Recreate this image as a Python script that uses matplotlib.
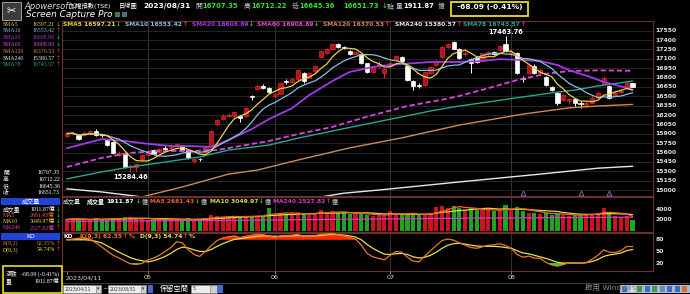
import numpy as np
import pandas as pd
import matplotlib
matplotlib.use('Agg')
import matplotlib.pyplot as plt
from matplotlib.patches import Rectangle

plt.rcParams['font.family'] = ['DejaVu Sans', 'Noto Sans CJK TC']
SERIF = ['Liberation Serif', 'Noto Sans CJK TC']

# TAIEX daily candles 2023/04/11 - 2023/08/31
opens = [15870, 15895, 15880, 15880, 15905, 15950, 15890, 15800, 15770, 15565,
         15600, 15365, 15370, 15490, 15560, 15640, 15610, 15670, 15680, 15710,
         15710, 15640, 15470, 15500, 15610, 15700, 16050, 16140, 16190, 16190,
         16190, 16190, 16500, 16620, 16660, 16640, 16510, 16540, 16740, 16730,
         16770, 16880, 16800, 16900, 17130, 17190, 17260, 17330, 17280, 17230,
         17180, 17170, 17030, 16890, 16990, 16880, 16990, 17080, 17130, 16990,
         16750, 16680, 16680, 16880, 17000, 17130, 17290, 17370, 17260, 17170,
         17100, 17110, 17080, 17170, 17210, 17240, 17340, 17170, 17200, 16800,
         16870, 16990, 16870, 16810, 16650, 16560, 16440, 16420, 16450, 16390,
         16360, 16400, 16480, 16700, 16660, 16520, 16570, 16640, 16707.35]
highs = [15935, 15945, 15895, 15940, 15960, 15975, 15905, 15815, 15780, 15625,
         15610, 15420, 15440, 15580, 15620, 15660, 15670, 15700, 15730, 15750,
         15725, 15650, 15510, 15520, 15700, 15960, 16140, 16210, 16230, 16270,
         16200, 16330, 16520, 16680, 16690, 16650, 16550, 16730, 16770, 16800,
         16940, 16890, 16880, 17000, 17240, 17280, 17350, 17350, 17300, 17240,
         17230, 17180, 17040, 16990, 17060, 16960, 17060, 17160, 17150, 17000,
         16760, 16710, 16900, 16990, 17080, 17310, 17360, 17390, 17270, 17220,
         17110, 17120, 17200, 17230, 17230, 17320, 17463.76, 17240, 17210, 16820,
         17010, 17010, 16940, 16820, 16660, 16570, 16540, 16480, 16470, 16420,
         16420, 16500, 16580, 16820, 16680, 16580, 16610, 16740, 16712.22]
lows = [15850, 15875, 15800, 15860, 15890, 15860, 15850, 15700, 15570, 15545,
        15350, 15284.46, 15300, 15470, 15540, 15555, 15600, 15630, 15660, 15690,
        15630, 15500, 15440, 15470, 15600, 15690, 16030, 16120, 16170, 16170,
        16090, 16170, 16440, 16600, 16620, 16550, 16480, 16520, 16700, 16710,
        16750, 16720, 16790, 16880, 17110, 17180, 17240, 17280, 17250, 17160,
        17170, 17020, 16870, 16870, 16960, 16800, 16970, 17060, 17040, 16740,
        16600, 16640, 16660, 16860, 16980, 17110, 17270, 17250, 17100, 17140,
        16880, 17030, 17070, 17150, 17160, 17220, 17210, 17150, 16850, 16730,
        16850, 16860, 16850, 16660, 16580, 16360, 16420, 16370, 16350, 16320,
        16330, 16390, 16460, 16690, 16450, 16500, 16540, 16620, 16645.36]
closes = [15905, 15915, 15815, 15920, 15940, 15875, 15875, 15720, 15590, 15600,
          15370, 15380, 15420, 15560, 15600, 15570, 15650, 15660, 15710, 15730,
          15640, 15510, 15495, 15490, 15690, 15945, 16125, 16190, 16200, 16250,
          16160, 16310, 16490, 16660, 16640, 16570, 16530, 16720, 16730, 16780,
          16920, 16740, 16870, 16980, 17220, 17260, 17330, 17290, 17270, 17180,
          17210, 17040, 16890, 16970, 17010, 16940, 17040, 17140, 17060, 16760,
          16670, 16670, 16890, 16970, 17060, 17290, 17340, 17260, 17120, 17190,
          17040, 17050, 17190, 17210, 17170, 17300, 17230, 17210, 16870, 16770,
          17000, 16880, 16920, 16680, 16600, 16390, 16520, 16450, 16390, 16370,
          16390, 16470, 16560, 16790, 16470, 16560, 16590, 16719.82, 16651.73]
volumes = [2100, 2250, 2200, 2000, 1950, 2300, 2150, 2200, 2450, 2100,
           2600, 2500, 2200, 2300, 2050, 2100, 2000, 2150, 1900, 2050,
           2200, 2300, 2100, 2150, 2400, 2900, 2700, 2600, 2550, 2600,
           2700, 2800, 2750, 2700, 2650, 4300, 3100, 3400, 3000, 2900,
           3500, 3300, 2900, 3100, 3800, 3500, 3700, 3300, 3300, 3200,
           3300, 3100, 2900, 2800, 3000, 2700, 3700, 3200, 3100, 3300,
           3000, 2900, 3000, 3200, 4500, 4700, 4200, 4700, 4300, 3900,
           4200, 3800, 3900, 3800, 3700, 3900, 4800, 3800, 4400, 3600,
           3400, 3300, 3100, 3300, 3000, 3200, 2900, 2800, 2900, 3000,
           3100, 3200, 3300, 4300, 3300, 2800, 2600, 2700, 1911.87]
k_line = [80, 82, 84, 85, 82, 72, 62, 50, 40, 33,
          25, 18, 16, 19, 28, 33, 40, 50, 60, 75,
          72, 55, 42, 37, 50, 65, 78, 85, 88, 90,
          86, 89, 92, 94, 93, 90, 86, 90, 91, 92,
          94, 88, 89, 91, 94, 95, 96, 93, 90, 86,
          82, 66, 45, 36, 32, 28, 40, 50, 48, 35,
          25, 23, 38, 52, 65, 78, 82, 79, 72, 66,
          60, 58, 62, 66, 67, 70, 65, 58, 42, 35,
          38, 33, 32, 22, 15, 12, 16, 21, 20, 19,
          21, 30, 40, 54, 48, 47, 52, 63, 62.35]
d_line = [80, 80, 80, 80, 79, 76, 72, 64, 56, 48,
          41, 34, 29, 26, 23, 26, 31, 37, 45, 55,
          61, 59, 54, 50, 50, 55, 63, 70, 76, 81,
          83, 85, 87, 89, 90, 90, 89, 89, 90, 90,
          91, 90, 90, 90, 91, 93, 94, 93, 92, 90,
          87, 80, 68, 58, 50, 43, 42, 44, 45, 42,
          36, 33, 35, 40, 48, 58, 66, 70, 71, 69,
          66, 64, 63, 63, 63, 62, 60, 58, 52, 46,
          44, 40, 36, 32, 27, 22, 20, 20, 20, 20,
          21, 24, 29, 37, 41, 43, 46, 52, 54.74]

# longer averages, read at a few days along each line
ma20_days = [0, 6, 10, 14, 18, 21, 25, 28, 32, 35, 39, 42, 46, 49, 52, 54, 58, 63,
             68, 72, 75, 79, 82, 85, 87, 91, 93, 96, 98]
ma20_vals = [15670, 15815, 15785, 15740, 15705, 15705, 15690, 15800, 15975, 16135,
             16310, 16520, 16745, 16890, 16950, 16985, 17015, 17050, 17050, 17065,
             17095, 17080, 17065, 17000, 16920, 16800, 16730, 16660, 16608.89]
ma60_days = [0, 6, 11, 16, 21, 26, 30, 35, 40, 46, 52, 59, 65, 68, 73, 78, 83, 87, 92, 98]
ma60_vals = [15370, 15515, 15595, 15625, 15625, 15640, 15705, 15785, 15895, 16010,
             16175, 16345, 16445, 16505, 16630, 16760, 16860, 16905, 16915, 16908.89]
ma78_days = [0, 6, 11, 16, 23, 28, 35, 40, 46, 51, 58, 63, 68, 73, 79, 84, 88, 92, 98]
ma78_vals = [15180, 15290, 15370, 15435, 15530, 15640, 15720, 15830, 15945, 16040,
             16170, 16265, 16345, 16410, 16490, 16555, 16600, 16665, 16743.57]
ma120_days = [11, 20, 28, 33, 40, 49, 58, 68, 79, 87, 92, 98]
ma120_vals = [14845, 15050, 15255, 15320, 15480, 15675, 15835, 16040, 16215, 16315,
              16345, 16370.53]
ma240_days = [0, 6, 13, 23, 33, 44, 48, 54, 68, 82, 92, 98]
ma240_vals = [15020, 14970, 14890, 14825, 14825, 14890, 14950, 15000, 15130, 15255,
              15350, 15380.57]
vol240_days = [0, 30, 50, 70, 98]
vol240_vals = [1750, 1950, 2150, 2350, 2527.82]

month_days = [14, 36, 56, 77]
month_names = ['05', '06', '07', '08']
start_date = '2023/04/11'
event_days = [79, 89, 94]
price_ticks = list(range(15000, 17551, 150))

sma_names = ['SMA5', 'SMA10', 'SMA20', 'SMA60', 'SMA120', 'SMA240', 'SMA78']
sma_last = ['16597.21', '16553.42', '16608.89', '16908.89', '16370.53', '15380.57', '16743.57']
sma_up = [False, True, False, False, True, True, True]
sma_colors = ['#e6d24a', '#86bfe0', '#a23ae6', '#dc46dc', '#cc8a55', '#e6e6e6', '#2aa594']

vol_last = '1911.87'
vol_ma_names = ['MA5', 'MA10', 'MA240']
vol_ma_last = ['2681.43', '3049.97', '2527.82']
k_last, d_last = '62.35', '54.74'
change = '-68.09 (-0.41%)'
trade_date = '2023/08/31'

W, H = 690, 294
UP, DOWN = '#ff3535', '#35d035'
FRAME = '#6a3030'
XL = (-0.87, 101.56)

fig = plt.figure(figsize=(W / 100, H / 100), dpi=100)
fig.patch.set_facecolor('black')
renderer = fig.canvas.get_renderer()


def put(x, y, s, size=4.4, color='white', ha='left', weight='normal', family=None,
        style='normal', z=3):
    kw = {'family': family} if family else {}
    return fig.text(x / W, 1 - y / H, s, fontsize=size, color=color, ha=ha, va='center',
                    fontweight=weight, style=style, zorder=z, **kw)


def run(x, y, parts, size, gap=1.5, weight='bold', family=None):
    for s, col in parts:
        t = put(x, y, s, size, col, weight=weight, family=family)
        x = t.get_window_extent(renderer).x1 + gap
    return x


def rect(x0, y0, x1, y1, z=1, **kw):
    fig.patches.append(Rectangle((x0 / W, 1 - y1 / H), (x1 - x0) / W, (y1 - y0) / H,
                                 transform=fig.transFigure, zorder=z, **kw))


def panel(y0, y1, ylo, yhi):
    ax = fig.add_axes([62 / W, 1 - y1 / H, 591 / W, (y1 - y0) / H])
    ax.set_facecolor('black')
    ax.set_xlim(*XL)
    ax.set_ylim(ylo, yhi)
    ax.set_xticks([])
    ax.set_yticks([])
    for sp in ax.spines.values():
        sp.set_color(FRAME)
        sp.set_linewidth(0.8)
    for d in month_days:
        ax.axvline(d, color='#3c3c3c', lw=0.6, zorder=0)
    return ax


days = np.arange(len(closes))
o = np.array(opens)
c = np.array(closes)
hi = np.array(highs)
lo = np.array(lows)
up = c >= o

# ---------------- price panel ----------------
ax = panel(21, 196, 14905, 17705)
for lvl in price_ticks:
    ax.axhline(lvl, color='#2a2a2a', lw=0.6, zorder=0)
    ax.text(1.004, lvl, str(lvl), transform=ax.get_yaxis_transform(), fontsize=4.4,
            color='#e8dede', va='center', ha='left', fontweight='bold', clip_on=False)

wick_cols = np.where(up, '#e02828', 'white')
ax.vlines(days, lo, hi, colors=wick_cols, lw=0.7, zorder=3)
ax.bar(days, np.maximum(np.abs(c - o), 12), bottom=np.minimum(o, c), width=0.72,
       color=np.where(up, '#b3141a', 'white'), edgecolor=wick_cols, linewidth=0.5, zorder=4)

ma5 = pd.Series(closes).rolling(5, min_periods=1).mean()
ma10 = pd.Series(closes).rolling(10, min_periods=1).mean()
ax.plot(ma240_days, ma240_vals, color=sma_colors[5], lw=1.0, zorder=5)
ax.plot(ma120_days, ma120_vals, color=sma_colors[4], lw=1.0, zorder=5)
ax.plot(ma78_days, ma78_vals, color=sma_colors[6], lw=1.0, zorder=5)
ax.plot(ma60_days, ma60_vals, color=sma_colors[3], lw=1.3, dashes=(3, 1.5), zorder=5)
ax.plot(ma20_days, ma20_vals, color=sma_colors[2], lw=1.3, zorder=5)
ax.plot(days, ma10, color=sma_colors[1], lw=0.9, zorder=6)
ax.plot(days, ma5, color=sma_colors[0], lw=0.9, zorder=6)

ax.plot(event_days, [14960] * len(event_days), ls='none', marker='^', ms=3.5,
        mfc='none', mec='#9a6ac0', mew=0.6, zorder=6, clip_on=False)

i_lo = int(np.argmin(lo))
i_hi = int(np.argmax(hi))
ax.text(i_lo, lo[i_lo] - 25, f'{lo[i_lo]:.2f}', ha='center', va='top', fontsize=4.8,
        color='white', fontweight='bold', zorder=7)
ax.text(i_hi, hi[i_hi] + 15, f'{hi[i_hi]:.2f}', ha='center', va='bottom', fontsize=4.8,
        color='white', fontweight='bold', zorder=7)

legend_x = [63, 125, 192, 257, 323, 395, 463]
for name, val, u, col, x in zip(sma_names, sma_last, sma_up, sma_colors, legend_x):
    run(x, 24.5, [(f'{name} {val}', col), ('↑' if u else '↓', UP if u else DOWN)], 4.3, gap=0.8)

# ---------------- volume panel ----------------
axv = panel(197, 232, -243, 6299)
axv.bar(days, volumes, width=0.72, color=np.where(up, '#c8141e', '#1ea51e'), zorder=2)
vol_s = pd.Series(volumes)
axv.plot(days, vol_s.rolling(10, min_periods=1).mean(), color='#e8d840', lw=0.9, zorder=3)
axv.plot(days, vol_s.rolling(5, min_periods=1).mean(), color='#f06428', lw=0.9, zorder=3)
axv.plot(vol240_days, vol240_vals, color='#d838c8', lw=0.9, zorder=3)
for v in (4000, 2000):
    axv.text(1.004, v, str(v), transform=axv.get_yaxis_transform(), fontsize=4.4,
             color='#e8dede', va='center', ha='left', fontweight='bold', clip_on=False)

run(63, 201.5, [('成交量', 'white')], 4.3, weight='normal')
run(87, 201.5, [('成交量', 'white'), (vol_last, 'white'), ('↓', DOWN), ('億', '#c0c0c0')], 4.3)
vol_cols = ['#f06428', '#e8d840', '#d838c8']
for name, val, col, x in zip(vol_ma_names, vol_ma_last, vol_cols, [150, 210, 273]):
    run(x, 201.5, [(f'{name} {val}', col), ('↓' if name != 'MA240' else '↑',
                                            DOWN if name != 'MA240' else UP), ('億', '#c0c0c0')],
        4.3, gap=0.8)

# ---------------- KD panel ----------------
axk = panel(233, 271, -0.5, 97.5)
kk = np.array(k_line)
dd = np.array(d_line)
axk.fill_between(days, kk, 80, where=kk > 80, interpolate=True, color='#ff2a00', lw=0, zorder=2)
axk.fill_between(days, kk, 20, where=kk < 20, interpolate=True, color='#22dd22', lw=0, zorder=2)
axk.plot(days, dd, color='#e6e04a', lw=0.9, zorder=3)
axk.plot(days, kk, color='#e8782e', lw=0.9, zorder=3)
for v in (80, 50, 20):
    axk.text(1.004, v, str(v), transform=axk.get_yaxis_transform(), fontsize=4.4,
             color='#e8dede', va='center', ha='left', fontweight='bold', clip_on=False)
run(63, 236.5, [('KD', 'white')], 4.3)
run(80, 236.5, [(f'K(9,3) {k_last}', '#e8782e'), ('↑', UP), ('%', '#e8782e')], 4.3, gap=0.8)
run(140, 236.5, [(f'D(9,3) {d_last}', '#e6e04a'), ('↑', UP), ('%', '#e6e04a')], 4.3, gap=0.8)

# ---------------- date axis ----------------
axd = fig.add_axes([62 / W, 1 - 283 / H, 591 / W, 12 / H])
axd.set_facecolor('black')
axd.set_xlim(*XL)
axd.set_ylim(0, 1)
axd.axis('off')
axd.vlines([0] + month_days, 0.75, 1.0, color='#909090', lw=0.6)
axd.text(-0.3, 0.45, start_date, fontsize=4.6, color='#dcdcc8', va='center', ha='left')
for d, m in zip(month_days, month_names):
    axd.text(d, 0.45, m, fontsize=4.6, color='#dcdcc8', va='center', ha='center')

# ---------------- top bar ----------------
GREEN_TXT = '#35e035'
put(70, 6, '加權指數(TSE)', 4.5, 'white')
put(119, 6, '日線圖', 4.5, 'white')
put(143, 6, trade_date, 5.4, 'white', weight='bold')
top_items = [(195, '開', '#c8c8c8', 'normal'), (202, f'{opens[-1]:.2f}', GREEN_TXT, 'bold'),
             (244, '高', '#c8c8c8', 'normal'), (251, f'{highs[-1]:.2f}', GREEN_TXT, 'bold'),
             (292, '低', '#c8c8c8', 'normal'), (299, f'{lows[-1]:.2f}', GREEN_TXT, 'bold'),
             (343, f'{closes[-1]:.2f}', GREEN_TXT, 'bold'), (381.5, '↓', DOWN, 'bold'),
             (387, '點', '#c8c8c8', 'normal'), (396, '量', '#c8c8c8', 'normal'),
             (403, vol_last, 'white', 'bold'), (438, '億', '#c8c8c8', 'normal')]
for x, s, col, wt in top_items:
    put(x, 6, s, 4.9, col, weight=wt)
rect(451, 2, 528, 15.5, z=4, fill=False, edgecolor='#e8e020', lw=1.3)
put(489.5, 7, change, 5.4, 'white', ha='center', weight='bold')

# screen capture watermark
rect(2, 2, 21, 20, z=9, facecolor='#3c3c3c', edgecolor='#b0b0b0', lw=0.6)
put(11.5, 11, '✂', 8, 'white', ha='center', z=10)
put(24, 6.2, 'Apowersoft', 6.0, '#d8d8d8', style='italic', z=10)
put(26, 14.5, 'Screen Capture Pro', 6.4, 'white', style='italic', z=10)
rect(115, 12, 120, 16.5, z=9, facecolor='#3a7a5a')
rect(122, 12, 127, 16.5, z=9, facecolor='#56687a')

# ---------------- left side panel ----------------
rect(60.6, 19, 61.4, 283, facecolor='#5a5a5a')
rect(0, 167.6, 61, 168.3, facecolor='#5a5a5a')
SB = 4.2
rows_y = [24, 31, 37.8, 44.6, 51.4, 58.2, 65]
for name, val, u, col, y in zip(sma_names, sma_last, sma_up, sma_colors, rows_y):
    put(3, y, name, SB, col, family=SERIF)
    put(55, y, val, SB, col, ha='right', family=SERIF)
    put(55.8, y, '↑' if u else '↓', SB, UP if u else DOWN)

for lab, val, y in zip(['開', '高', '低', '收'], [opens[-1], highs[-1], lows[-1], closes[-1]],
                       [173, 179.7, 186.3, 193]):
    put(3, y, lab, SB, 'white', family=SERIF)
    put(60, y, f'{val:.2f}', SB, 'white', ha='right', family=SERIF)

rect(1, 197.8, 60, 205, facecolor='#2342d6', z=2)
put(30.5, 201.4, '成交量', 4.4, 'white', ha='center', z=4)
side_vol = [('成交量', vol_last, 'white'), ] + [(n, v, col) for n, v, col in
                                                zip(vol_ma_names, vol_ma_last, vol_cols)]
for (name, val, col), y, u in zip(side_vol, [209, 215.3, 221.6, 227.9], [0, 0, 0, 1]):
    put(3, y, name, SB, col, family=SERIF)
    put(55, y, f'{val}億', SB, col, ha='right', family=SERIF)
    put(55.8, y, '↑' if u else '↓', SB, UP if u else DOWN)
rect(0, 230.5, 61, 233, facecolor='black', z=5)
rect(1, 232.6, 60, 239.6, facecolor='#2342d6', z=6)
put(30.5, 236.1, 'KD', 4.4, 'white', ha='center', z=7)
put(3, 243.2, 'K(9,3)', SB, '#e8782e', family=SERIF)
put(55, 243.2, f'{k_last}%', SB, '#e8782e', ha='right', family=SERIF)
put(55.8, 243.2, '↑', SB, UP)
put(3, 249.8, 'D(9,3)', SB, '#e6e04a', family=SERIF)
put(55, 249.8, f'{d_last}%', SB, '#e6e04a', ha='right', family=SERIF)
put(55.8, 249.8, '↑', SB, UP)

rect(3, 266, 61.5, 293, z=4, fill=False, edgecolor='#e8e020', lw=1.2)
put(6, 274, '漲跌', SB, 'white', family=SERIF)
put(59, 274, change, SB, 'white', ha='right', family=SERIF)
put(6, 281, '量', SB, 'white', family=SERIF)
put(59, 281, f'{vol_last}億', SB, 'white', ha='right', family=SERIF)

# ---------------- bottom tool bar ----------------
rect(62, 283, 690, 283.8, facecolor='#3a3a3a')
for x0, label in [(63, start_date), (108, trade_date)]:
    rect(x0, 285, x0 + 33, 292.5, facecolor='#ececec', edgecolor='#9a9a9a', lw=0.4)
    rect(x0 + 33, 285, x0 + 38, 292.5, facecolor='#d0d0d0', edgecolor='#9a9a9a', lw=0.4)
    put(x0 + 1.5, 288.8, label, 3.3, '#303030')
    put(x0 + 35.5, 288.8, '▾', 3.3, '#303030', ha='center')
put(104.5, 288.8, '~', 4.5, 'white', ha='center')
rect(148, 285, 153, 292.5, facecolor='#4a6ad0')
put(160, 288.6, '保留空間', 5.2, 'white')
rect(191, 285, 210, 292.5, facecolor='#ececec', edgecolor='#9a9a9a', lw=0.4)
put(193, 288.8, '5', 3.6, '#303030')
rect(210, 285, 217, 292.5, facecolor='#d0d0d0', edgecolor='#9a9a9a', lw=0.4)
rect(217, 285, 223, 292.5, facecolor='#4a6ad0')
put(585, 287, '啟用 Windows', 5.4, '#8a8a8a')
rect(620, 284.5, 690, 293, facecolor='#a9bcd4')
for j, col in enumerate(['#3c6cc0', '#e0e0e0', '#3c9a4c', '#3c6cc0', '#3c9a4c',
                         '#6a8ac0', '#3c6cc0', '#3c6cc0', '#e07020']):
    rect(622 + j * 7.5, 286, 627 + j * 7.5, 291.5, facecolor=col)

fig.savefig('out.png', dpi=100, facecolor='black')
